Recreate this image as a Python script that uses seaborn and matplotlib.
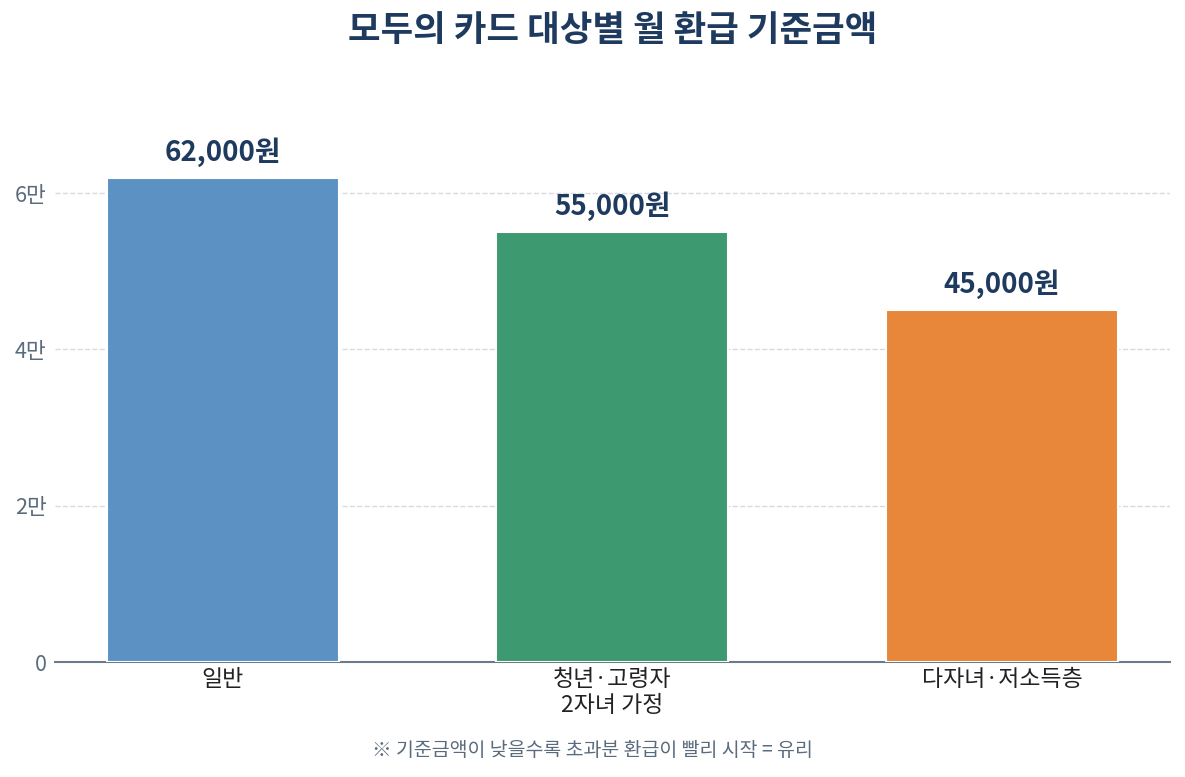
import seaborn as sns
import matplotlib.pyplot as plt
import pandas as pd

categories = ['일반', '청년·고령자\n2자녀 가정', '다자녀·저소득층']
amounts = [62000, 55000, 45000]
bar_colors = ['#5B92C3', '#3D9970', '#E8863A']
ytick_vals = [0, 20000, 40000, 60000]
ytick_labels = ['0', '2만', '4만', '6만']

sns.set_theme(style='white')
plt.rcParams['font.family'] = ['Noto Sans CJK KR', 'DejaVu Sans']

df = pd.DataFrame({'category': categories, 'amount': amounts})

fig = plt.figure(figsize=(11.85, 7.77), dpi=100)
ax = fig.add_axes([0.0464, 0.148, 0.9406, 0.704])

sns.barplot(data=df, x='category', y='amount', hue='category', palette=bar_colors,
            saturation=1, width=0.595, edgecolor='white', linewidth=1.5,
            legend=False, ax=ax, zorder=3)

# value labels above bars
for i, v in enumerate(amounts):
    ax.text(i, v + 1400, f'{v:,}원', ha='center', va='bottom',
            fontsize=20, fontweight='bold', color='#1F3A5F')

ax.set_ylim(0, 70000)
ax.set_xlim(-0.43, 2.43)
ax.set_yticks(ytick_vals)
ax.set_yticklabels(ytick_labels)
ax.yaxis.grid(True, linestyle='--', color='#D5DAE0', linewidth=1, zorder=0)
ax.set_axisbelow(True)
ax.tick_params(axis='y', labelsize=15.5, labelcolor='#5A6B7D', length=0, pad=6)
ax.tick_params(axis='x', labelsize=16.5, labelcolor='#222222', length=0, pad=4)
ax.set_xlabel('')
ax.set_ylabel('')

for s in ['top', 'right', 'left']:
    ax.spines[s].set_visible(False)
ax.spines['bottom'].set_color('#6C7A89')
ax.spines['bottom'].set_linewidth(1.5)

# title centred over the plot area, footnote over the whole figure
pos = ax.get_position()
fig.text(pos.x0 + pos.width / 2, 0.961, '모두의 카드 대상별 월 환급 기준금액',
         ha='center', va='center', fontsize=25.5, fontweight='bold', color='#1F3A5F')
fig.text(0.5, 0.034, '※ 기준금액이 낮을수록 초과분 환급이 빨리 시작 = 유리',
         ha='center', va='center', fontsize=14, color='#5A6B7D')

fig.savefig('out.png', dpi=100)
